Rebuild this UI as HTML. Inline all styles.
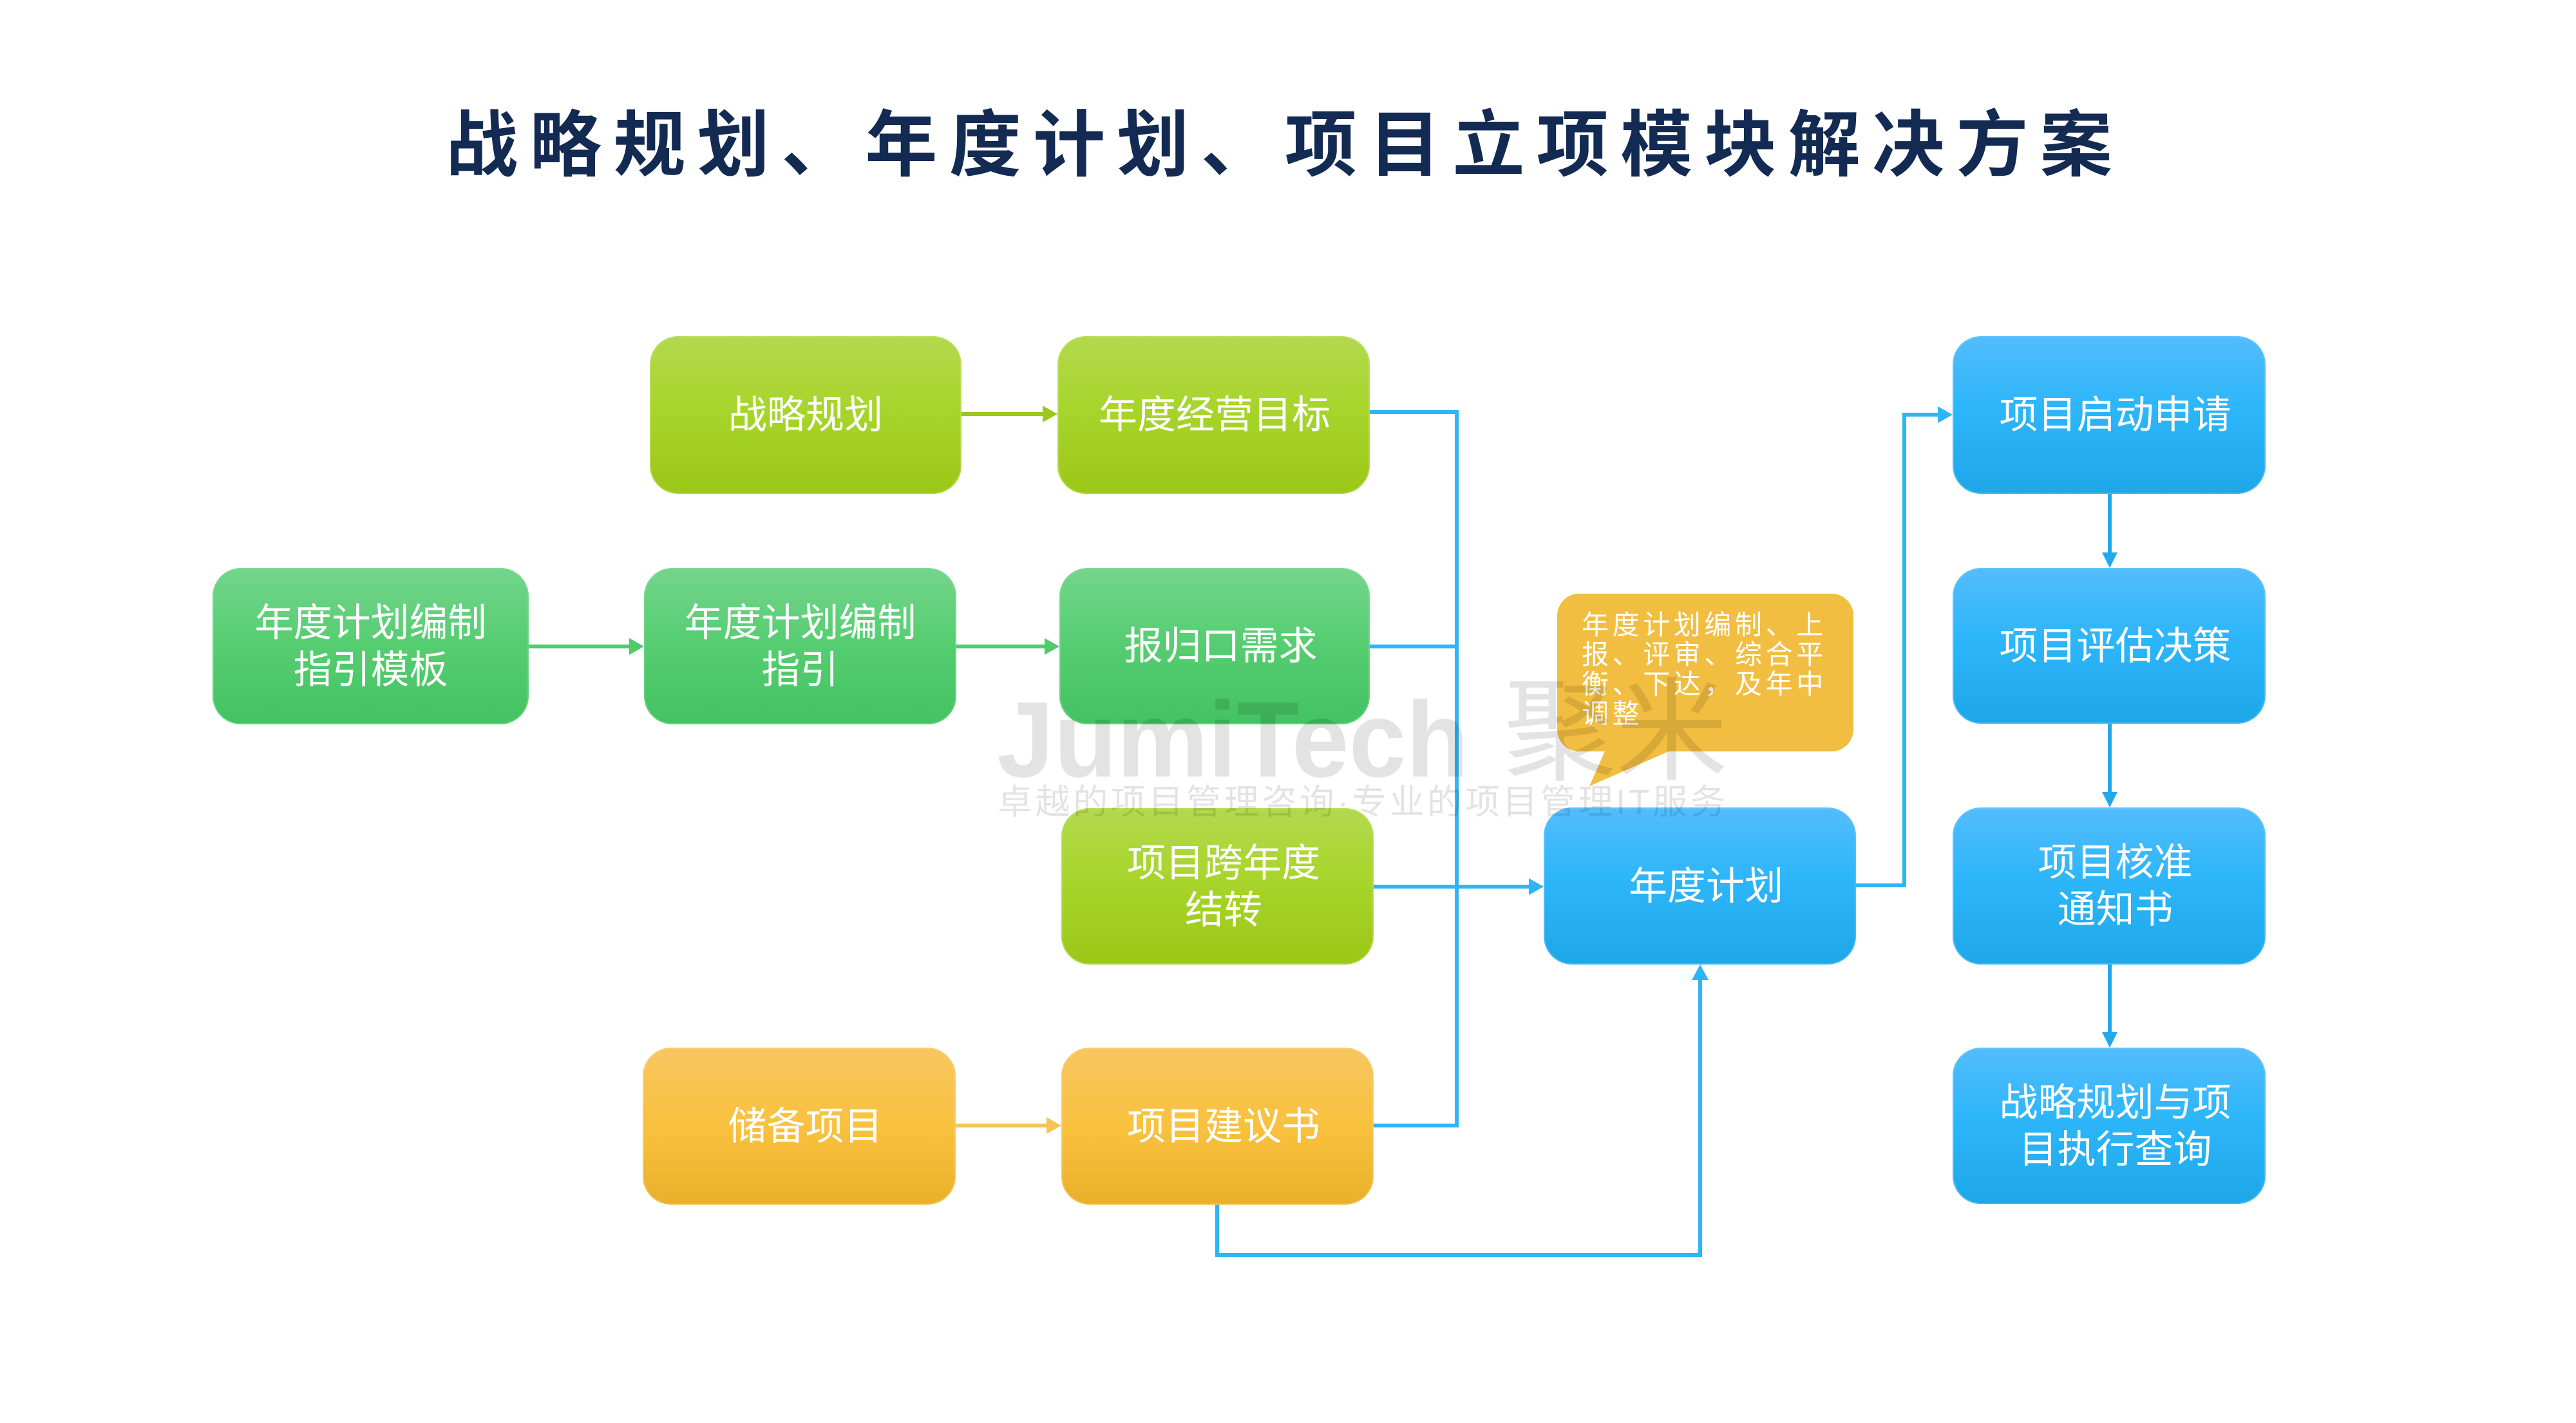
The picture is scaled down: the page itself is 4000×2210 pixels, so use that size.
<!DOCTYPE html>
<html>
<head>
<meta charset="utf-8">
<style>
  html, body { margin:0; padding:0; }
  body { width:4000px; height:2210px; position:relative; background:#ffffff; overflow:hidden;
         font-family:"Liberation Sans","Noto Sans CJK SC",sans-serif; }
  .title { position:absolute; left:692px; top:170px; font-size:112px; line-height:112px;
           font-weight:bold; letter-spacing:18.3px; color:#132a52; white-space:nowrap;
           font-family:"Liberation Sans","Noto Sans CJK SC",sans-serif; }
  .box { position:absolute; border-radius:44px; display:flex; align-items:center; justify-content:center;
         text-align:center; color:#ffffff; font-size:60px; line-height:73px; box-sizing:border-box;
         font-family:"Liberation Sans","Noto Sans CJK SC",sans-serif; }
  .shift { padding-left:19px; }
  .lime { background:linear-gradient(to bottom,#b2d94d 0%,#a8d52c 45%,#9bc717 100%); box-shadow:inset 0 0 0 2px rgba(200,230,120,0.45); }
  .green { background:linear-gradient(to bottom,#73d58c 0%,#55cd70 50%,#44c262 100%); box-shadow:inset 0 0 0 2px rgba(140,225,160,0.45); }
  .orange { background:linear-gradient(to bottom,#f7c661 0%,#f9c13e 50%,#e8b02a 100%); box-shadow:inset 0 0 0 2px rgba(250,215,130,0.45); }
  .blue { background:linear-gradient(to bottom,#53bdfc 0%,#2db6fa 45%,#1ea7e7 100%); box-shadow:inset 0 0 0 2px rgba(120,205,252,0.45); }
  .callout { position:absolute; left:2418px; top:922px; width:460px; height:245px; border-radius:34px; background:#f2be41; }
  .ctext { position:absolute; left:2456px; top:948px; font-size:42px; line-height:46px; letter-spacing:5.6px;
           color:#ffffff; white-space:nowrap; font-family:"Liberation Sans","Noto Sans CJK SC",sans-serif; }
  .wm1 { position:absolute; left:1548px; top:1066px; font-size:167px; line-height:167px; font-weight:bold;
         color:rgba(0,0,0,0.11); white-space:nowrap; transform:scaleX(0.955); transform-origin:0 0;
         font-family:"Liberation Sans",sans-serif; }
  .wm2 { position:absolute; left:2335px; top:1050px; font-size:174px; line-height:174px;
         color:rgba(0,0,0,0.11); white-space:nowrap; font-family:"Liberation Sans","Noto Sans CJK SC",sans-serif; }
  .wm3 { position:absolute; left:1549px; top:1219px; font-size:54px; line-height:54px; letter-spacing:4.6px;
         color:rgba(0,0,0,0.11); white-space:nowrap; font-family:"Liberation Sans","Noto Sans CJK SC",sans-serif; }
  svg { position:absolute; left:0; top:0; }
</style>
</head>
<body>

<div class="title">战略规划、年度计划、项目立项模块解决方案</div>

<!-- connectors -->
<svg width="4000" height="2210" viewBox="0 0 4000 2210">
  <g fill="none" stroke-width="6" stroke-linejoin="miter" stroke-linecap="butt">
    <line x1="1493" y1="643" x2="1622" y2="643" stroke="#9cc81c"/>
    <line x1="821" y1="1004" x2="980" y2="1004" stroke="#4fca6d"/>
    <line x1="1485" y1="1004" x2="1625" y2="1004" stroke="#4fca6d"/>
    <line x1="1484" y1="1748" x2="1628" y2="1748" stroke="#f7c352"/>
    <polyline points="2127,640 2262,640 2262,1748 2133,1748" stroke="#2db5f5"/>
    <line x1="2127" y1="1004" x2="2262" y2="1004" stroke="#2db5f5"/>
    <line x1="2133" y1="1377" x2="2377" y2="1377" stroke="#2db5f5"/>
    <polyline points="2882,1375 2957,1375 2957,644 3012,644" stroke="#2db5f5"/>
    <polyline points="1890,1869 1890,1949 2640,1949 2640,1518" stroke="#2db5f5"/>
    <line x1="3276" y1="767" x2="3276" y2="862" stroke="#22a9ec"/>
    <line x1="3276" y1="1124" x2="3276" y2="1234" stroke="#22a9ec"/>
    <line x1="3276" y1="1498" x2="3276" y2="1607" stroke="#22a9ec"/>
  </g>
  <g stroke="none">
    <polygon points="1642,643 1619,630 1619,656" fill="#9cc81c"/>
    <polygon points="1000,1004 977,991 977,1017" fill="#4fca6d"/>
    <polygon points="1645,1004 1622,991 1622,1017" fill="#4fca6d"/>
    <polygon points="1648,1748 1625,1735 1625,1761" fill="#f7c352"/>
    <polygon points="2397,1377 2374,1364 2374,1390" fill="#2db5f5"/>
    <polygon points="3032,644 3009,631 3009,657" fill="#2db5f5"/>
    <polygon points="2640,1498 2627,1522 2653,1522" fill="#2db5f5"/>
    <polygon points="3276,882 3264,858 3288,858" fill="#22a9ec"/>
    <polygon points="3276,1254 3264,1230 3288,1230" fill="#22a9ec"/>
    <polygon points="3276,1627 3264,1603 3288,1603" fill="#22a9ec"/>
  </g>
</svg>

<!-- boxes -->
<div class="box lime" style="left:1009px;top:522px;width:484px;height:245px;">战略规划</div>
<div class="box lime" style="left:1642px;top:522px;width:485px;height:245px;padding-left:3px;">年度经营目标</div>

<div class="box green" style="left:330px;top:882px;width:491px;height:243px;">年度计划编制<br>指引模板</div>
<div class="box green" style="left:1000px;top:882px;width:485px;height:243px;">年度计划编制<br>指引</div>
<div class="box green shift" style="left:1645px;top:882px;width:482px;height:243px;">报归口需求</div>

<div class="box lime shift" style="left:1648px;top:1255px;width:485px;height:243px;">项目跨年度<br>结转</div>
<div class="box blue shift" style="left:2397px;top:1254px;width:485px;height:244px;">年度计划</div>

<div class="box orange shift" style="left:998px;top:1627px;width:486px;height:244px;">储备项目</div>
<div class="box orange shift" style="left:1648px;top:1627px;width:485px;height:244px;">项目建议书</div>

<div class="box blue shift" style="left:3032px;top:522px;width:486px;height:245px;">项目启动申请</div>
<div class="box blue shift" style="left:3032px;top:882px;width:486px;height:242px;">项目评估决策</div>
<div class="box blue shift" style="left:3032px;top:1254px;width:486px;height:244px;">项目核准<br>通知书</div>
<div class="box blue shift" style="left:3032px;top:1627px;width:486px;height:243px;">战略规划与项<br>目执行查询</div>

<!-- callout -->
<div class="callout"></div>
<svg width="4000" height="2210" viewBox="0 0 4000 2210">
  <polygon points="2495,1160 2607,1160 2468,1221" fill="#f2be41"/>
</svg>
<div class="ctext">年度计划编制、上<br>报、评审、综合平<br>衡、下达，及年中<br>调整</div>

<!-- watermark -->
<div class="wm1">JumiTech</div>
<div class="wm2">聚米</div>
<div class="wm3">卓越的项目管理咨询·专业的项目管理IT服务</div>

</body>
</html>
